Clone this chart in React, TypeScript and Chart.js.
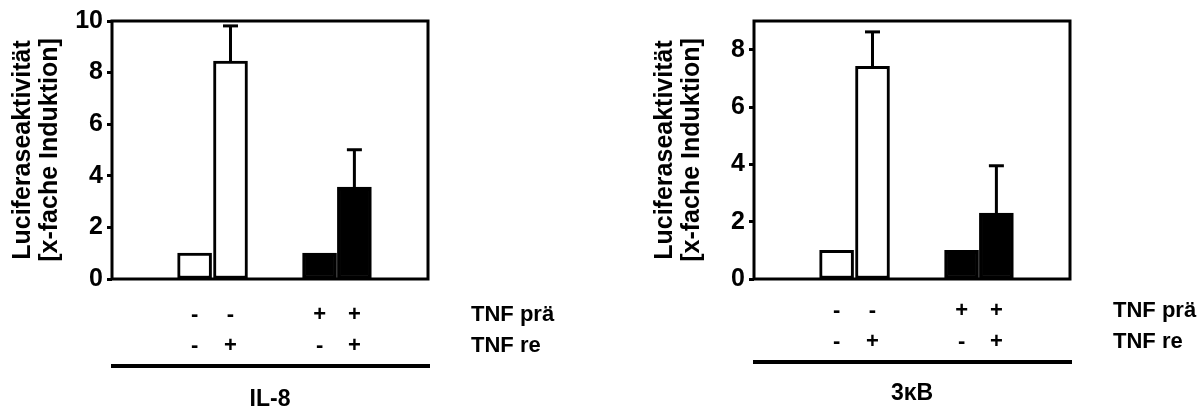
import React, { useEffect, useRef } from "react";
import { Chart, registerables } from "chart.js";

Chart.register(...registerables);

const FONT = "'Liberation Sans', Arial, Helvetica, sans-serif";

// x positions of the four conditions on a numeric axis (data units)
const barPositions = [2.3, 3.3, 5.78, 6.75];
const tnfPre = ["-", "-", "+", "+"];
const tnfRe = ["-", "+", "-", "+"];
const rowLabels = ["TNF prä", "TNF re"];
const barFills = ["#ffffff", "#ffffff", "#000000", "#000000"];
const yTitle = ["Luciferaseaktivität", "[x-fache Induktion]"];

const il8Values = [1.0, 8.45, 1.0, 3.56];
const il8Errors = [0, 1.36, 0, 1.45];
const kbValues = [1.0, 7.42, 1.0, 2.3];
const kbErrors = [0, 1.2, 0, 1.65];

const W = 557;
const H = 408;

type PanelProps = {
  values: number[];
  errors: number[];
  yMax: number;
  group: string;
  lift: number;
};

function Panel({ values, errors, yMax, group, lift }: PanelProps) {
  const ref = useRef<HTMLCanvasElement | null>(null);

  useEffect(() => {
    const canvas = ref.current;
    if (!canvas) return;
    const tickPad = 21 - lift;
    const lineH = 30.5;

    const extras = {
      id: "extras",
      afterDatasetsDraw(chart: any) {
        const ctx = chart.ctx;
        const a = chart.chartArea;
        const ys = chart.scales.y;
        const meta = chart.getDatasetMeta(0);
        ctx.save();
        ctx.strokeStyle = "#000";
        ctx.fillStyle = "#000";
        // error bars (upper only)
        ctx.lineWidth = 3;
        meta.data.forEach((bar: any, i: number) => {
          const e = errors[i];
          if (!e) return;
          const yb = ys.getPixelForValue(values[i]);
          const yt = ys.getPixelForValue(values[i] + e);
          ctx.beginPath();
          ctx.moveTo(bar.x, yb);
          ctx.lineTo(bar.x, yt);
          ctx.stroke();
          ctx.beginPath();
          ctx.moveTo(bar.x - 7.5, yt);
          ctx.lineTo(bar.x + 7.5, yt);
          ctx.stroke();
        });
        // frame
        ctx.lineWidth = 3;
        ctx.strokeRect(a.left, a.top, a.right - a.left, a.bottom - a.top);
        ctx.restore();
      },
      afterDraw(chart: any) {
        const ctx = chart.ctx;
        const a = chart.chartArea;
        const xs = chart.scales.x;
        ctx.save();
        ctx.fillStyle = "#000";
        ctx.strokeStyle = "#000";
        ctx.font = `bold 22px ${FONT}`;
        ctx.textAlign = "left";
        ctx.textBaseline = "middle";
        rowLabels.forEach((t, i) => {
          const y = xs.top + tickPad + lineH / 2 + i * lineH;
          ctx.fillText(t, a.right + 43, y);
        });
        // group line
        ctx.lineWidth = 4;
        const ly = 366 - lift;
        ctx.beginPath();
        ctx.moveTo(a.left - 1, ly);
        ctx.lineTo(a.right + 2, ly);
        ctx.stroke();
        ctx.font = `bold 23px ${FONT}`;
        ctx.textAlign = "center";
        ctx.textBaseline = "alphabetic";
        ctx.fillText(group, (a.left + a.right) / 2, 406 - lift * 1.6);
        ctx.restore();
      },
    };

    const chart = new Chart(canvas, {
      type: "bar",
      data: {
        datasets: [
          {
            data: barPositions.map((x, i) => ({ x, y: values[i] })) as any,
            backgroundColor: barFills,
            borderColor: "#000",
            borderWidth: 3,
            borderSkipped: false,
            barThickness: 34,
          },
        ],
      },
      options: {
        responsive: false,
        animation: false,
        devicePixelRatio: 1,
        layout: { padding: { left: 0, top: 21, right: W - 428, bottom: 0 } },
        plugins: {
          legend: { display: false },
          tooltip: { enabled: false },
        },
        scales: {
          x: {
            type: "linear",
            min: 0,
            max: 8.8,
            offset: false,
            grid: { display: false, drawTicks: false },
            border: { display: false },
            afterBuildTicks: (s: any) => {
              s.ticks = barPositions.map((v) => ({ value: v }));
            },
            afterFit: (s: any) => {
              s.height = H - 279;
            },
            ticks: {
              autoSkip: false,
              maxRotation: 0,
              minRotation: 0,
              padding: tickPad,
              color: "#000",
              font: { family: FONT, size: 22, weight: "bold", lineHeight: lineH / 22 },
              callback: (_v: any, i: number) => [tnfPre[i], tnfRe[i]],
            },
          },
          y: {
            min: 0,
            max: yMax,
            afterFit: (s: any) => {
              s.width = 112;
            },
            grid: {
              drawOnChartArea: false,
              drawTicks: true,
              tickLength: 5,
              tickWidth: 3,
              color: "#000",
            },
            border: { display: false },
            ticks: {
              stepSize: 2,
              includeBounds: false,
              padding: 4,
              color: "#000",
              font: { family: FONT, size: 25, weight: "bold" },
            },
            title: {
              display: true,
              text: yTitle,
              color: "#000",
              font: { family: FONT, size: 25, weight: "bold", lineHeight: 27 / 25 },
              padding: { top: 9.5, bottom: 0 },
            },
          },
        },
      } as any,
      plugins: [extras],
    });
    return () => chart.destroy();
  }, [values, errors, yMax, group, lift]);

  return <canvas ref={ref} width={W} height={H} style={{ width: W, height: H, display: "block" }} />;
}

export default function App() {
  return (
    <div
      style={{
        position: "fixed",
        left: 0,
        top: 0,
        width: 1199,
        height: 408,
        background: "#fff",
        overflow: "hidden",
      }}
    >
      <div style={{ position: "absolute", left: 0, top: 0 }}>
        <Panel values={il8Values} errors={il8Errors} yMax={10} group="IL-8" lift={0} />
      </div>
      <div style={{ position: "absolute", left: 642, top: 0 }}>
        <Panel values={kbValues} errors={kbErrors} yMax={9} group="3κB" lift={4} />
      </div>
    </div>
  );
}
